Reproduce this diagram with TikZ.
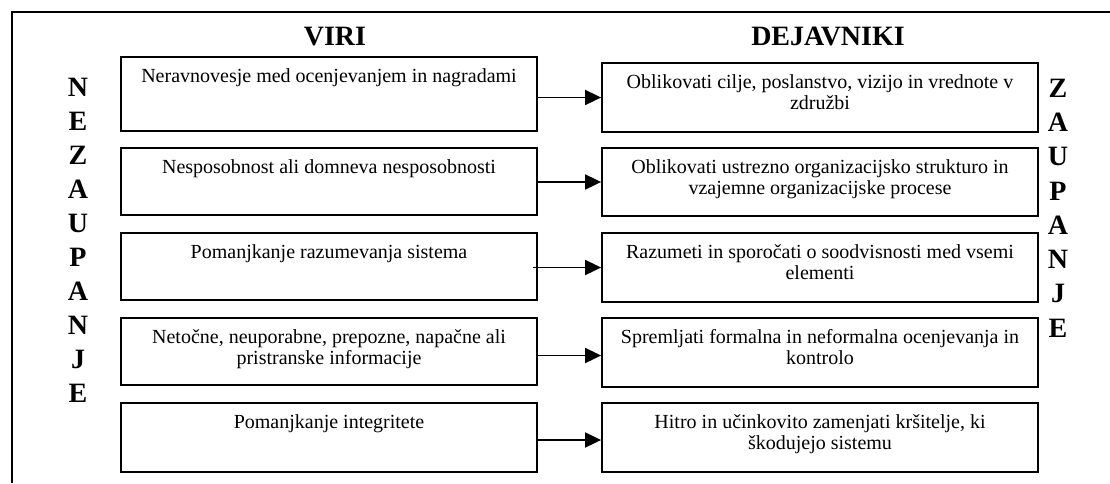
\documentclass[tikz,border=0pt]{standalone}
\usepackage{fontspec}
\setmainfont{Liberation Serif}
\usetikzlibrary{arrows.meta,calc}

\tikzset{
  frameline/.style={line width=2pt},
  cell/.style={draw, line width=1.8pt, rectangle, inner sep=0pt},
  celltext/.style={anchor=north, inner sep=0pt, align=center,
    font=\fontsize{20}{20.5}\selectfont},
  head/.style={anchor=base, inner sep=0pt, font=\fontsize{28}{28}\selectfont\bfseries},
  letter/.style={inner sep=0pt, font=\fontsize{28}{28}\selectfont\bfseries},
  link/.style={line width=1.8pt, -{Triangle[length=16pt,width=15pt]}}
}

\begin{document}
\begin{tikzpicture}[x=1pt,y=-1pt]
  \useasboundingbox (0,0) rectangle (1110,483);

  % outer frame (open at the right and bottom)
  \coordinate (fbl) at (12,483);
  \coordinate (ftl) at (12,12);
  \coordinate (ftr) at (1110,12);
  \draw[frameline] (fbl) -- (ftl) -- (ftr);

  % column headings
  \node[head] (hviri) at (335,45) {VIRI};
  \node[head] (hdej) at (828,45) {DEJAVNIKI};

  % sources (left column)
  \node[cell, minimum width=416pt, minimum height=74pt] (L1) at (329,94) {};
  \node[cell, minimum width=416pt, minimum height=67pt] (L2) at (329,181.5) {};
  \node[cell, minimum width=416pt, minimum height=67pt] (L3) at (329,266.5) {};
  \node[cell, minimum width=416pt, minimum height=67pt] (L4) at (329,351.5) {};
  \node[cell, minimum width=416pt, minimum height=69pt] (L5) at (329,437.5) {};

  % factors (right column)
  \node[cell, minimum width=436pt, minimum height=69pt] (R1) at (820,97.5) {};
  \node[cell, minimum width=436pt, minimum height=68pt] (R2) at (820,182) {};
  \node[cell, minimum width=436pt, minimum height=69pt] (R3) at (820,267.5) {};
  \node[cell, minimum width=436pt, minimum height=69pt] (R4) at (820,352.5) {};
  \node[cell, minimum width=436pt, minimum height=69pt] (R5) at (820,437.5) {};

  % texts of the cells
  \node[celltext] (tL1) at ([yshift=-12.5pt]L1.north) {Neravnovesje med ocenjevanjem in nagradami};
  \node[celltext] (tL2) at ([yshift=-12.5pt]L2.north) {Nesposobnost ali domneva nesposobnosti};
  \node[celltext] (tL3) at ([yshift=-12.5pt]L3.north) {Pomanjkanje razumevanja sistema};
  \node[celltext] (tL4) at ([yshift=-12.5pt]L4.north) {Netočne, neuporabne, prepozne, napačne ali\\pristranske informacije};
  \node[celltext] (tL5) at ([yshift=-12.5pt]L5.north) {Pomanjkanje integritete};

  \node[celltext] (tR1) at ([yshift=-12.5pt]R1.north) {Oblikovati cilje, poslanstvo, vizijo in vrednote v\\združbi};
  \node[celltext] (tR2) at ([yshift=-12.5pt]R2.north) {Oblikovati ustrezno organizacijsko strukturo in\\vzajemne organizacijske procese};
  \node[celltext] (tR3) at ([yshift=-12.5pt]R3.north) {Razumeti in sporočati o soodvisnosti med vsemi\\elementi};
  \node[celltext] (tR4) at ([yshift=-12.5pt]R4.north) {Spremljati formalna in neformalna ocenjevanja in\\kontrolo};
  \node[celltext] (tR5) at ([yshift=-12.5pt]R5.north) {Hitro in učinkovito zamenjati kršitelje, ki\\škodujejo sistemu};

  % connectors
  \draw[link] (L1.east |- R1.west) -- (R1.west);
  \draw[link] (L2.east |- R2.west) -- (R2.west);
  \draw[link] ([xshift=-5pt]L3.east |- R3.west) -- (R3.west);
  \draw[link] ([yshift=-3pt]L4.east |- R4.west) -- ([yshift=-3pt]R4.west);
  \draw[link] ([yshift=-2.5pt]L5.east |- R5.west) -- ([yshift=-2.5pt]R5.west);

  % vertical words
  \foreach \ch [count=\i from 0] in {N,E,Z,A,U,P,A,N,J,E}
    \node[letter] (nz\i) at (78, 87+34*\i) {\ch};
  \foreach \ch [count=\i from 0] in {Z,A,U,P,A,N,J,E}
    \node[letter] (za\i) at (1058, 88+34.3*\i) {\ch};
\end{tikzpicture}
\end{document}
